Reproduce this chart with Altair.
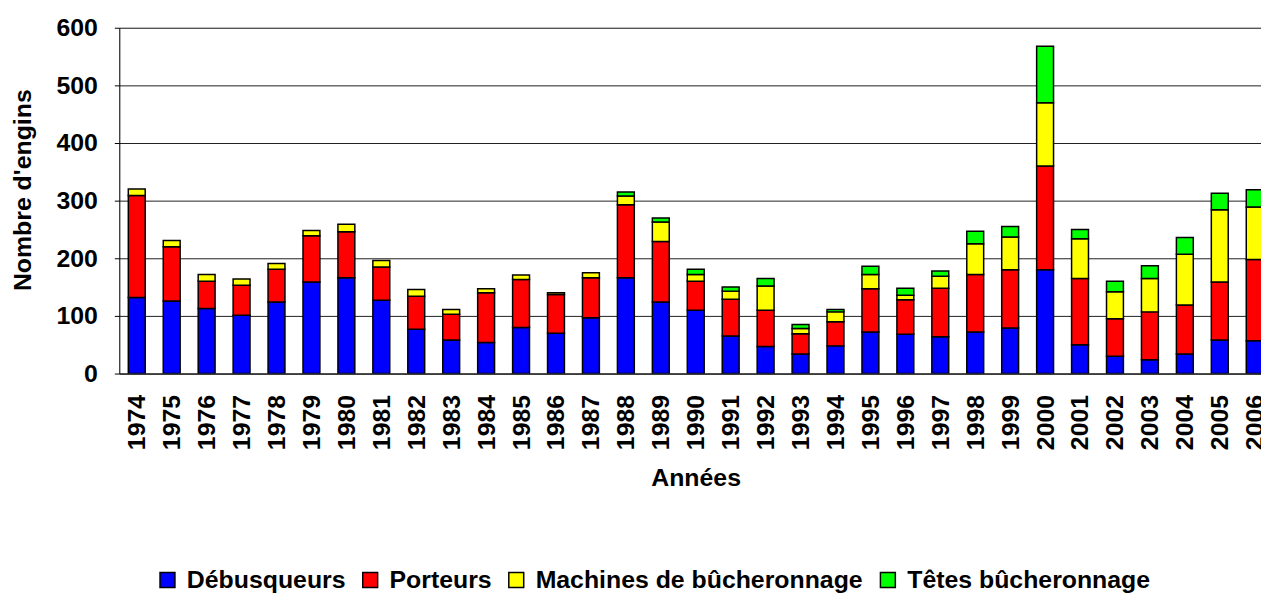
import altair as alt
import pandas as pd

years = list(range(1974, 2007))
debusqueurs = [132, 126, 113, 101, 124, 159, 166, 127, 77, 58, 54, 80, 70, 97, 166, 124,
               110, 65, 47, 34, 48, 72, 68, 64, 72, 79, 180, 50, 30, 24, 34, 58, 57]
porteurs = [177, 94, 47, 52, 57, 80, 80, 58, 57, 45, 86, 83, 67, 69, 127, 105,
            50, 64, 63, 35, 42, 75, 60, 84, 100, 101, 180, 115, 65, 83, 85, 101, 141]
machines = [11, 11, 12, 11, 10, 9, 13, 11, 12, 8, 7, 8, 3, 9, 15, 34,
            12, 14, 42, 9, 17, 25, 8, 21, 53, 57, 110, 69, 47, 58, 88, 125, 91]
tetes = [0] * 14 + [7, 7,
                    9, 7, 13, 7, 4, 14, 12, 9, 22, 18, 98, 16, 18, 22, 29, 29, 30]

series_names = ["Débusqueurs", "Porteurs", "Machines de bûcheronnage", "Têtes bûcheronnage"]
series_colors = ["#0000FF", "#FF0000", "#FFFF00", "#00FF00"]
y_ticks = [0, 100, 200, 300, 400, 500, 600]

rows = []
for i, y in enumerate(years):
    for k, vals in enumerate([debusqueurs, porteurs, machines, tetes]):
        rows.append({"Année": y, "Série": series_names[k], "rang": k, "Nombre": vals[i]})
df = pd.DataFrame(rows)

FONT = "Liberation Sans"

bars = alt.Chart(df).transform_filter(
    alt.datum.Nombre > 0
).mark_bar(size=17, stroke="black", strokeWidth=1.5, clip=True).encode(
    x=alt.X("Année:Q",
            scale=alt.Scale(domain=[1973.5, 2006.18], nice=False, zero=False, padding=0),
            axis=alt.Axis(values=years, format="d", labelAngle=-90, ticks=False, tickSize=0,
                          labelPadding=21, labelFlush=False, labelOverlap=False, labelBound=False,
                          grid=False, domainColor="black", domainWidth=1,
                          labelFont=FONT, labelFontSize=25, labelFontWeight="bold", labelColor="black",
                          title="Années", titleFont=FONT, titleFontSize=25, titleFontWeight="bold",
                          titleColor="black", titleX=580, titleY=113, titleBaseline="alphabetic",
                          titleAlign="center")),
    y=alt.Y("Nombre:Q", stack="zero",
            scale=alt.Scale(domain=[0, 600], nice=False, padding=0),
            axis=alt.Axis(values=y_ticks, grid=True, gridColor="#202020", gridWidth=1,
                          domainColor="black", domainWidth=1, tickColor="black", tickSize=5,
                          labelPadding=17, labelFont=FONT, labelFontSize=25, labelFontWeight="bold",
                          labelColor="black",
                          title="Nombre d'engins", titleFont=FONT, titleFontSize=25,
                          titleFontWeight="bold", titleColor="black", titleX=-97, titleY=163,
                          titleBaseline="middle", titleAlign="center")),
    color=alt.Color("Série:N",
                    scale=alt.Scale(domain=series_names, range=series_colors),
                    legend=alt.Legend(orient="none", legendX=36, legendY=543, direction="horizontal",
                                      columns=4, title=None, symbolType="square", symbolSize=225,
                                      symbolStrokeColor="black", symbolStrokeWidth=1.5,
                                      symbolOpacity=1, labelFont=FONT, labelFontSize=25,
                                      labelFontWeight="bold", labelColor="black", labelLimit=0,
                                      labelOffset=7, columnPadding=12, padding=0)),
    order=alt.Order("rang:Q", sort="ascending"),
)

chart = bars.properties(
    width=1149, height=348,
    autosize=alt.AutoSizeParams(type="none"),
    padding={"left": 112, "top": 18, "right": 0, "bottom": 220},
).configure_view(stroke=None).configure(background="white")

chart.save("out.html", embed_options={"renderer": "svg", "actions": False})
